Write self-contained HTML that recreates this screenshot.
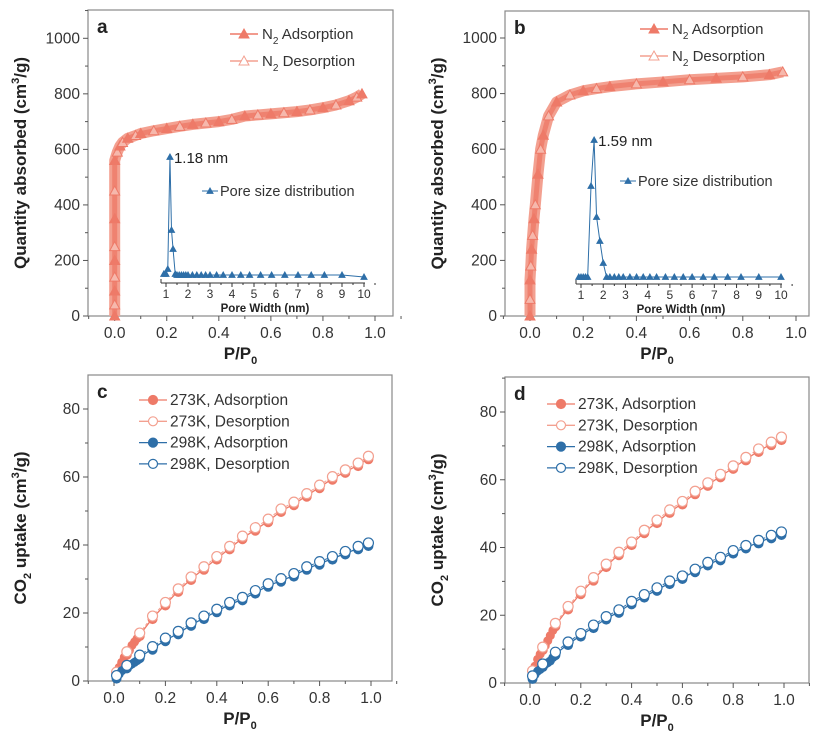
<!DOCTYPE html>
<html><head><meta charset="utf-8"><style>
body{margin:0;background:#fff}
svg{display:block;font-family:"Liberation Sans",sans-serif}
</style></head><body>
<svg id="fig" width="821" height="736" viewBox="0 0 821 736" xmlns="http://www.w3.org/2000/svg"></svg>
<script>
// ---- data ----
const n2aP=[0,0,0,0,0,0,0,0,0,0.01,0.02,0.03,0.05,0.08,0.1,0.15,0.2,0.25,0.3,0.35,0.4,0.45,0.5,0.55,0.6,0.65,0.7,0.75,0.8,0.85,0.9,0.93,0.95];
const n2aV=[0,40,90,140,200,250,350,450,560,590,612,625,640,650,657,667,675,683,690,695,700,708,720,724,728,732,736,742,750,760,775,788,800];
const n2bP=[0,0,0,0.003,0.006,0.01,0.015,0.02,0.03,0.04,0.05,0.07,0.1,0.15,0.2,0.25,0.3,0.4,0.5,0.6,0.7,0.8,0.9,0.95];
const n2bV=[0,60,130,180,240,290,350,400,510,600,650,720,770,795,810,818,825,835,842,850,855,860,868,878];
const poreAW=[0.9,1.0,1.08,1.18,1.25,1.32,1.42,1.5,1.6,1.7,1.8,1.9,2.0,2.2,2.4,2.6,2.8,3.0,3.3,3.6,4.0,4.4,4.8,5.3,5.8,6.4,7.0,7.6,8.2,9.0,10];
const poreAV=[3,3,8,120,47,28,3,2,2,2,2,2,2,2,2,2,2,2,2,2,2,2,2,2,2,2,2,2,2,2,0];
const poreBW=[0.9,1.0,1.1,1.2,1.3,1.45,1.59,1.7,1.85,2.0,2.15,2.3,2.5,2.7,2.9,3.2,3.5,3.8,4.1,4.4,4.8,5.2,5.6,6.0,6.5,7.0,7.6,8.2,9.0,10];
const poreBV=[0,0,0,0,0,91,137,60,36,14,0,0,0,0,0,0,0,0,0,0,0,0,0,0,0,0,0,0,0,0];
const co2P=[0.01,0.05,0.1,0.15,0.2,0.25,0.3,0.35,0.4,0.45,0.5,0.55,0.6,0.65,0.7,0.75,0.8,0.85,0.9,0.95,0.99];
const c273=[2,8,13.5,18.5,22.5,26.5,30,33,36,39,42,44.5,47,50,52,54.5,57,59.5,61.5,63.5,65.5];
const c298=[1,4,7,9.5,12,14,16.5,18.5,20.5,22.5,24,26,28,29.5,31,33,34.5,36,37.5,39,40];
const d273=[3,10,17,22,26.5,30.5,34.5,38,41,44.5,47.5,50.5,53,56,58.5,61,63.5,66,68.5,70.5,72];
const d298=[1.5,5,8.5,11.5,14,16.5,19,21,23.5,25.5,27.5,29.5,31,33,35,36.5,38.5,40,41.5,43,44];
const lowP=[0.02,0.03,0.04,0.06,0.07,0.08,0.09];
const lowC273=[4,5.5,7,9,10.5,11.5,12.5];
const lowC298=[2,3,3.5,4.5,5,5.5,6];
const lowD273=[5,7,8.5,11,12.5,14,15.5];
const lowD298=[2.5,3.5,4,5.5,6,6.5,7.5];
const xTicks=["0.0","0.2","0.4","0.6","0.8","1.0"];
const n2Ticks=[0,200,400,600,800,1000];
const co2Ticks=[0,20,40,60,80];
const poreTicks=[1,2,3,4,5,6,7,8,9,10];

const NS="http://www.w3.org/2000/svg";
const svg=document.getElementById('fig');
function el(tag,attrs,parent,txt){const e=document.createElementNS(NS,tag);for(const k in attrs)e.setAttribute(k,attrs[k]);if(txt!==undefined)e.textContent=txt;(parent||svg).appendChild(e);return e;}
const RED="#ee7a68",RED2="#f3a090",BLUE="#2e6fa8";
function tri(g,x,y,s,fill,stroke){return el('path',{d:`M${x},${y-s} L${x+s},${y+s*0.8} L${x-s},${y+s*0.8}Z`,fill:fill,stroke:stroke,'stroke-width':1},g);}

function panel(cfg){
  const g=el('g',{});
  
  
  const X=v=>cfg.x0+(v)*(cfg.x1-cfg.x0);
  const Y=v=>cfg.yb-v*(cfg.yb-cfg.ytop)/cfg.ytopVal;
  cfg.X=X;cfg.Y=Y;
  const box=el('rect',{x:cfg.L,y:cfg.T,width:cfg.R-cfg.L,height:cfg.B-cfg.T,fill:'none',stroke:'#888','stroke-width':1.2},g);
  
  xTicks.forEach((t,i)=>{const x=X(i*0.2);el('line',{x1:x,x2:x,y1:cfg.B,y2:cfg.B+5,stroke:'#555'},g);
    el('line',{x1:X(i*0.2+0.1),x2:X(i*0.2+0.1),y1:cfg.B,y2:cfg.B+3,stroke:'#555'},g);
    const tx=el('text',{x:x,y:cfg.B+22,'font-size':15.5,'text-anchor':'middle',fill:'#333'},g,t);
    });
  el('line',{x1:X(-0.1),x2:X(-0.1),y1:cfg.B,y2:cfg.B+3,stroke:'#555'},g);
  cfg.yt.forEach((t,i)=>{const y=Y(t);el('line',{x1:cfg.L-5,x2:cfg.L,y1:y,y2:y,stroke:'#555'},g);
    const ym=Y(t+(cfg.yt[1]-cfg.yt[0])/2);if(ym>cfg.T)el('line',{x1:cfg.L-3,x2:cfg.L,y1:ym,y2:ym,stroke:'#555'},g);
    const tx=el('text',{x:cfg.L-8,y:y+5,'font-size':15.5,'text-anchor':'end',fill:'#333'},g,t);
    });
  const xl=el('text',{x:(cfg.L+cfg.R)/2,y:cfg.B+43,'font-size':17,'font-weight':'bold','text-anchor':'middle',fill:'#222'},g);
  
  xl.innerHTML='P/P<tspan font-size="11" dy="5">0</tspan>';
  const yl=el('text',{transform:`translate(${cfg.L-62},${(cfg.T+cfg.B)/2}) rotate(-90)`,'font-size':17,'font-weight':'bold','text-anchor':'middle',fill:'#222'},g);
  
  yl.innerHTML=cfg.ylab;
  const lt=el('text',{x:cfg.L+9,y:cfg.T+23,'font-size':19,'font-weight':'bold',fill:'#222'},g,cfg.id);
  
  return g;
}

function n2panel(cfg,P,V,PW,PV,peakLbl){
  cfg.yt=n2Ticks;cfg.ytopVal=1000;
  cfg.ylab='Quantity absorbed (cm<tspan font-size="11" dy="-7">3</tspan><tspan dy="7">/g)</tspan>';
  const g=panel(cfg);const X=cfg.X,Y=cfg.Y;
  const pts=P.map((p,i)=>X(p)+','+Y(V[i])).join(' ');
  const band=el('polyline',{points:pts,fill:'none',stroke:RED2,'stroke-width':11,'stroke-linejoin':'round'},g);
  
  const line=el('polyline',{points:pts,fill:'none',stroke:RED,'stroke-width':5,'stroke-linejoin':'round','stroke-opacity':0.8},g);
  
  P.forEach((p,i)=>{const m=tri(g,X(p),Y(V[i]),5,i%2?'#f6b8ac':RED,RED);
    });
  // inset
  const IX=w=>cfg.ix1+(w-1)*(cfg.ix10-cfg.ix1)/9;
  const IY=v=>cfg.ibase-v;
  el('line',{x1:cfg.ix1-5,x2:cfg.ix10+1,y1:cfg.iax,y2:cfg.iax,stroke:'#333','stroke-width':1},g);
  el('line',{x1:cfg.ix1-5,x2:cfg.ix1-5,y1:cfg.iax,y2:cfg.iax-4,stroke:'#333'},g);
  poreTicks.forEach(t=>{el('line',{x1:IX(t),x2:IX(t),y1:cfg.iax,y2:cfg.iax+4,stroke:'#333'},g);
    el('line',{x1:IX(t+0.5),x2:IX(t+0.5),y1:cfg.iax,y2:cfg.iax+2,stroke:'#333'},g);
    const tx=el('text',{x:IX(t),y:cfg.iax+15,'font-size':12,'text-anchor':'middle',fill:'#333'},g,t);
    });
  const it=el('text',{x:(IX(1)+IX(10))/2,y:cfg.iax+29,'font-size':11.5,'font-weight':'bold','text-anchor':'middle',fill:'#222'},g,'Pore Width (nm)');
  
  const ip=el('polyline',{points:PW.map((w,i)=>IX(w)+','+IY(PV[i])).join(' '),fill:'none',stroke:BLUE,'stroke-width':1},g);
  
  PW.forEach((w,i)=>{const m=tri(g,IX(w),IY(PV[i]),3,BLUE,BLUE);});
  const pk=PV.indexOf(Math.max(...PV));
  const pl=el('text',{x:IX(PW[pk])+4,y:IY(PV[pk])+6,'font-size':15,fill:'#222'},g,peakLbl);
  
  // legend
  const L=cfg.leg;
  [[L.y1,RED,RED,'Adsorption'],[L.y2,'#fff',RED2,'Desorption']].forEach(([y,f,s,t])=>{
    const lg=el('g',{},g);
    el('line',{x1:L.x-32,x2:L.x-4,y1:y-5,y2:y-5,stroke:s,'stroke-width':1.5},lg);tri(lg,L.x-18,y-5,5,f,s);
    el('text',{x:L.x,y:y,'font-size':15,fill:'#333'},lg).innerHTML='N<tspan font-size="10" dy="5">2</tspan><tspan dy="-5"> '+t+'</tspan>';});
  const pg=el('g',{},g);
  el('line',{x1:L.px-18,x2:L.px-2,y1:L.py-5,y2:L.py-5,stroke:BLUE},pg);tri(pg,L.px-10,L.py-5,3,BLUE,BLUE);
  el('text',{x:L.px,y:L.py,'font-size':14.5,fill:'#333'},pg,'Pore size distribution');
}

function co2panel(cfg,A,B,lA,lB){
  cfg.yt=co2Ticks;cfg.ytopVal=80;
  cfg.ylab='CO<tspan font-size="11" dy="5">2</tspan><tspan dy="-5"> uptake (cm</tspan><tspan font-size="11" dy="-7">3</tspan><tspan dy="7">/g)</tspan>';
  const g=panel(cfg);const X=cfg.X,Y=cfg.Y;
  [[A,lA,RED,RED2,'273k'],[B,lB,BLUE,BLUE,'298k']].forEach(([arr,low,c,c2,nm])=>{
    const ap=[[0,0]].concat(lowP.map((p,i)=>[p,low[i]])).concat(co2P.map((p,i)=>[p,arr[i]])).sort((a,b)=>a[0]-b[0]);
    const l=el('polyline',{points:ap.map(q=>X(q[0])+','+Y(q[1])).join(' '),fill:'none',stroke:c,'stroke-width':1.3},g);
    
    const l2=el('polyline',{points:co2P.map((p,i)=>X(p)+','+Y(arr[i]+0.6)).join(' '),fill:'none',stroke:c2,'stroke-width':1,'stroke-dasharray':'3 2'},g);
    
    low.forEach((v,i)=>{const m=el('circle',{cx:X(lowP[i]),cy:Y(v),r:4.5,fill:c},g);});
    co2P.forEach((p,i)=>{const m=el('circle',{cx:X(p),cy:Y(arr[i])+1,r:5,fill:c},g);
      const d=el('circle',{cx:X(p),cy:Y(arr[i]+0.6),r:5,fill:'#fff',stroke:c2,'stroke-width':1.2},g);});
  });
  const L=cfg.leg;
  [['273K, Adsorption',RED,RED],['273K, Desorption','#fff',RED2],['298K, Adsorption',BLUE,BLUE],['298K, Desorption','#fff',BLUE]].forEach(([t,f,s],i)=>{
    const y=L.y+i*21.3;const lg=el('g',{},g);
    el('line',{x1:L.x-31,x2:L.x-3,y1:y-5,y2:y-5,stroke:s,'stroke-width':1.3},lg);
    el('circle',{cx:L.x-17,cy:y-5,r:4.5,fill:f,stroke:s,'stroke-width':1.2},lg);
    el('text',{x:L.x,y:y,'font-size':15.5,fill:'#333'},lg,t);});
}

n2panel({id:'a',L:88,R:393,T:10,B:316,x0:114.7,x1:375,yb:316,ytop:38.3,ix1:166,ix10:364,iax:283,ibase:277,
  leg:{x:262,y1:39,y2:66,px:220,py:196}},n2aP,n2aV,poreAW,poreAV,'1.18 nm');
n2panel({id:'b',L:505,R:809,T:11,B:316,x0:530,x1:796,yb:316,ytop:38,ix1:581,ix10:781,iax:284,ibase:277,
  leg:{x:672,y1:34,y2:61,px:638,py:186}},n2bP,n2bV,poreBW,poreBV,'1.59 nm');
co2panel({id:'c',L:88,R:392,T:375,B:681,x0:114,x1:371,yb:681,ytop:409,leg:{x:170,y:405}},c273,c298,lowC273,lowC298);
co2panel({id:'d',L:505,R:809,T:377,B:683,x0:530,x1:784,yb:683,ytop:412,leg:{x:578,y:409}},d273,d298,lowD273,lowD298);
</script>
</body></html>
